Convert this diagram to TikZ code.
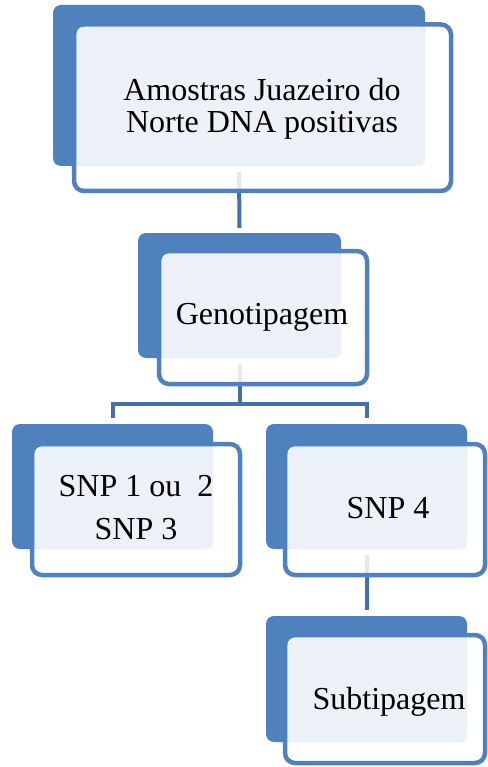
\documentclass[tikz,border=0pt]{standalone}
\usepackage{fontspec}
\setmainfont{Liberation Serif}
\definecolor{boxblue}{HTML}{4F81BD}
\definecolor{linkblue}{HTML}{4470A8}
\definecolor{paleblue}{HTML}{ECF0F7}
\begin{document}
\begin{tikzpicture}[x=1pt, y=-1pt,
	backbox/.style={fill=boxblue, rounded corners=8pt, inner sep=0pt, outer sep=0pt},
	frontbox/.style={draw=boxblue, line width=4.5pt, fill=white, fill opacity=0.85, rounded corners=10pt, inner sep=0pt, outer sep=0pt},
	lightbox/.style={fill=paleblue, rounded corners=6pt, inner sep=0pt, outer sep=0pt},
	label/.style={font=\fontsize{32}{32}\selectfont, align=center, inner sep=0pt},
	link/.style={draw=linkblue, line width=4pt}
	]
	\useasboundingbox (0,0) rectangle (487,767);
	% back blocks
	\node[backbox, minimum width=372pt, minimum height=161pt] (b1) at (239,85.5) {};
	\node[backbox, minimum width=203pt, minimum height=125pt] (b2) at (239.5,295.5) {};
	\node[backbox, minimum width=201pt, minimum height=125pt] (b3) at (112.5,486.5) {};
	\node[backbox, minimum width=201pt, minimum height=125pt] (b4) at (366.5,486.5) {};
	\node[backbox, minimum width=201pt, minimum height=126pt] (b5) at (366.5,679) {};
	% connectors
	\draw[link] ([yshift=-6pt]b1.south) -- ([yshift=5pt]b2.north);
	\draw[link] ([yshift=-6pt]b2.south) -- ++(0,40) coordinate (fork);
	\draw[link] ([yshift=6pt]b3.north) |- (fork) -| ([yshift=6pt]b4.north);
	\draw[link] ([yshift=-6pt]b4.south) -- ([yshift=6pt]b5.north);
	% front blocks
	\node[frontbox, minimum width=377pt, minimum height=166.5pt] (f1) at (262.5,107.75) {};
	\node[frontbox, minimum width=208pt, minimum height=133pt] (f2) at (263,317.5) {};
	\node[frontbox, minimum width=208pt, minimum height=131pt] (f3) at (136,509.5) {};
	\node[frontbox, minimum width=200pt, minimum height=131pt] (f4) at (385,509.5) {};
	\node[frontbox, minimum width=200pt, minimum height=128pt] (f5) at (385,699) {};
	\node[lightbox, minimum width=348pt, minimum height=139pt] (l1) at (251,96.5) {};
	\node[lightbox, minimum width=179pt, minimum height=104pt] (l2) at (251.5,306) {};
	\node[lightbox, minimum width=178pt, minimum height=102pt] (l3) at (124,498) {};
	\node[lightbox, minimum width=179pt, minimum height=102pt] (l4) at (377.5,498) {};
	\node[lightbox, minimum width=179pt, minimum height=104pt] (l5) at (377.5,690) {};
	% texts
	\node[label] (t1) at (262,109) {Amostras Juazeiro do\\Norte DNA positivas};
	\node[label] (t2) at (262,317) {Genotipagem};
	\node[label] (t3) at (136,508) {SNP 1 ou\ \ 2\\[11pt]SNP 3};
	\node[label] (t4) at (388,508) {SNP 4};
	\node[label] (t5) at (389,702) {Subtipagem};
\end{tikzpicture}
\end{document}
